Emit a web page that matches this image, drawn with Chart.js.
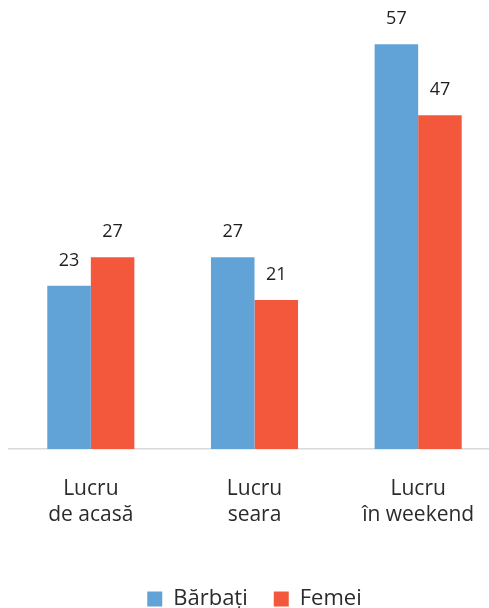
<!DOCTYPE html>
<html>
<head>
<meta charset="utf-8">
<script src="https://cdn.jsdelivr.net/npm/chart.js@4"></script>
<style>
  html, body { margin: 0; padding: 0; background: #fff; overflow: hidden; }
  #wrap { width: 489px; height: 608px; overflow: hidden; position: relative; }
  #box { position: absolute; left: 0; top: 0; width: 510px; height: 620px; }
</style>
</head>
<body>
<div id="wrap"><div id="box"><canvas id="c"></canvas></div></div>
<script>
const categories = [["Lucru", "de acasă"], ["Lucru", "seara"], ["Lucru", "în weekend"]];
const seriesNames = ["Bărbați", "Femei"];
const barbati = [23, 27, 57];
const femei = [27, 21, 47];
const colors = ["#62a3d7", "#f3583c"];

const FONT = "'Open Sans', 'Noto Sans', sans-serif";

// Value labels drawn above each bar
const valueLabels = {
  id: "valueLabels",
  afterDatasetsDraw(chart) {
    const ctx = chart.ctx;
    ctx.save();
    ctx.font = "18px " + FONT;
    ctx.fillStyle = "#1f1f1f";
    ctx.textAlign = "center";
    ctx.textBaseline = "middle";
    chart.data.datasets.forEach((ds, di) => {
      chart.getDatasetMeta(di).data.forEach((bar, i) => {
        ctx.fillText(String(ds.data[i]), bar.x, bar.y - 25);
      });
    });
    ctx.restore();
  }
};

new Chart(document.getElementById("c"), {
  type: "bar",
  data: {
    labels: categories,
    datasets: [
      { label: seriesNames[0], data: barbati, backgroundColor: colors[0] },
      { label: seriesNames[1], data: femei, backgroundColor: colors[1] }
    ]
  },
  options: {
    responsive: true,
    maintainAspectRatio: false,
    animation: false,
    layout: { padding: { left: 9, right: 10, top: 23, bottom: 0 } },
    datasets: { bar: { barPercentage: 1, categoryPercentage: 0.532 } },
    scales: {
      x: {
        grid: { display: false, drawTicks: false },
        border: { display: true, color: "#d9d9d9", width: 1.5 },
        ticks: {
          color: "#2b2b2b",
          font: { family: FONT, size: 21, lineHeight: 1.24 },
          padding: 27,
          maxRotation: 0
        },
        afterFit(scale) { scale.height = 113; }
      },
      y: {
        display: false,
        min: 0,
        max: 60
      }
    },
    plugins: {
      legend: {
        position: "bottom",
        labels: {
          color: "#2b2b2b",
          font: { family: FONT, size: 22 },
          boxWidth: 15,
          boxHeight: 15,
          padding: 26
        }
      },
      tooltip: { enabled: false }
    }
  },
  plugins: [valueLabels]
});
</script>
</body>
</html>
